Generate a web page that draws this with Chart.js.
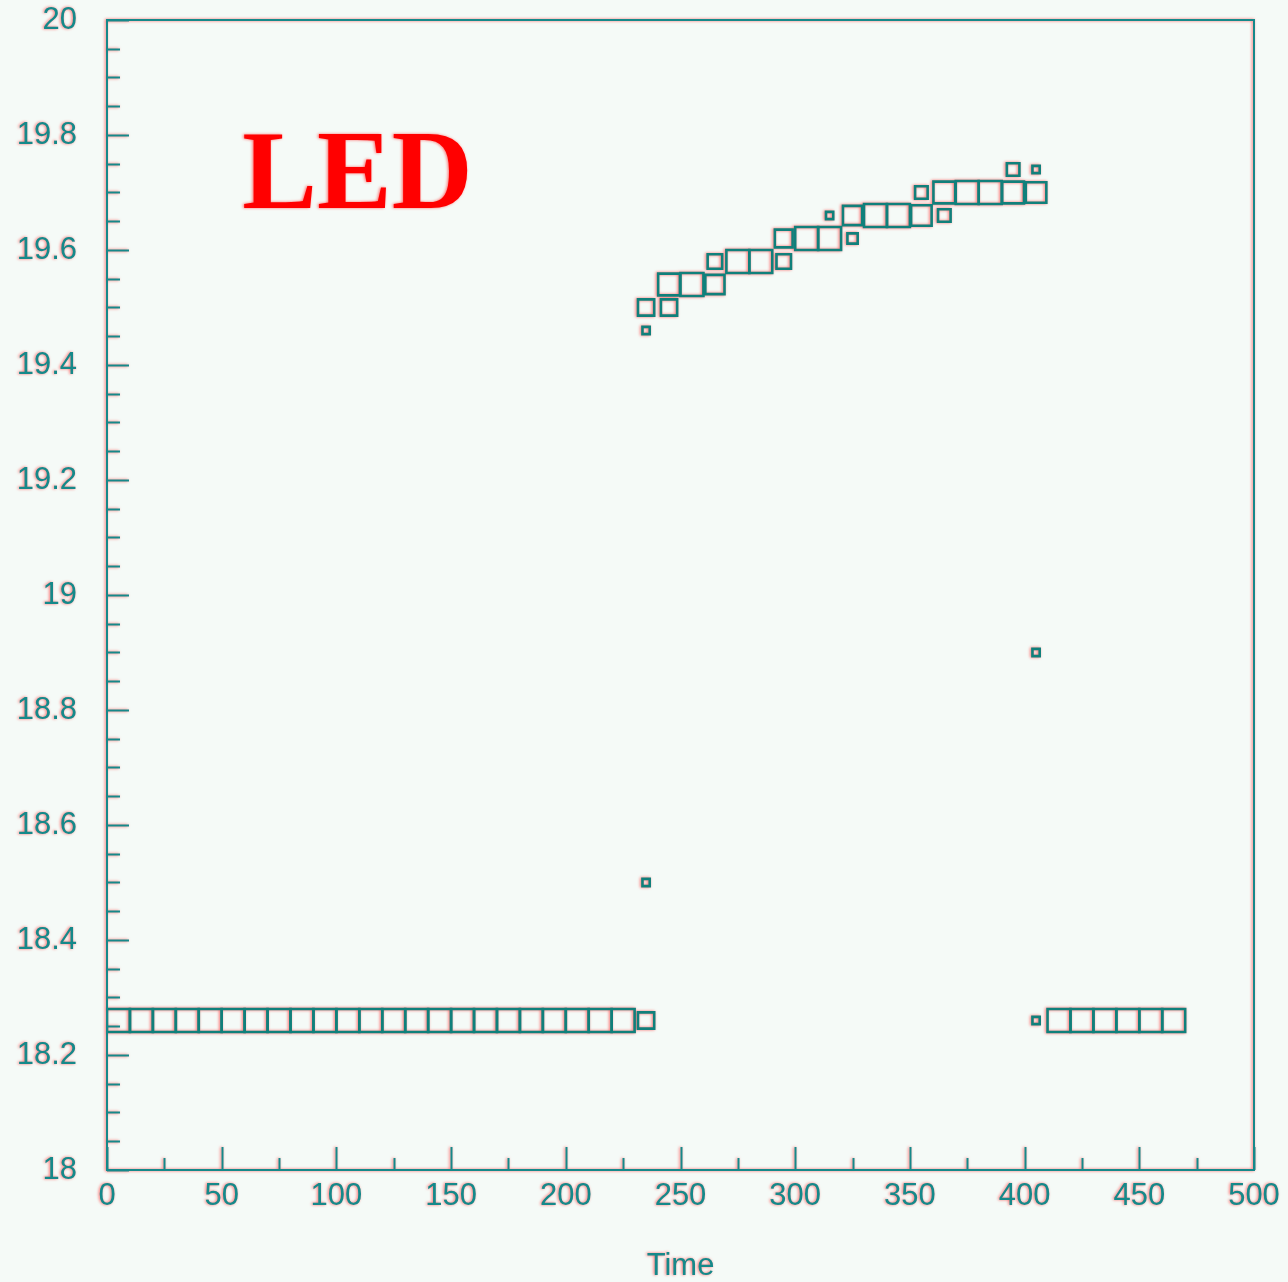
<!DOCTYPE html>
<html>
<head>
<meta charset="utf-8">
<script src="https://cdn.jsdelivr.net/npm/chart.js@4.4.1/dist/chart.umd.min.js"></script>
<style>
  html, body { margin: 0; padding: 0; background: #f5faf7; }
  #wrap { width: 1288px; height: 1282px; }
  /* slight red fringe round every line and glyph */
  canvas { filter: drop-shadow(-1px 0px 1.5px rgba(255, 60, 60, 0.75)); }
</style>
</head>
<body>
<div id="wrap"><canvas id="ledHist" width="1288" height="1282"></canvas></div>
<script>
// LED response vs time, 2D histogram drawn as boxes (10 time units x 0.04 per bin)
var timeBins = [5, 15, 25, 35, 45, 55, 65, 75, 85, 95, 105, 115, 125, 135, 145, 155, 165, 175, 185, 195, 205, 215, 225,
    235, 235, 235, 235, 245, 245, 255, 265, 265, 275, 285, 295, 295, 305, 315, 315, 325, 325,
    335, 345, 355, 355, 365, 365, 375, 385, 395, 395, 405, 405, 405, 405,
    415, 425, 435, 445, 455, 465];
var ledBins = [18.26, 18.26, 18.26, 18.26, 18.26, 18.26, 18.26, 18.26, 18.26, 18.26, 18.26, 18.26, 18.26, 18.26, 18.26, 18.26, 18.26, 18.26, 18.26, 18.26, 18.26, 18.26, 18.26,
    18.26, 18.50, 19.46, 19.50, 19.50, 19.54, 19.54, 19.54, 19.58, 19.58, 19.58, 19.58, 19.62, 19.62, 19.62, 19.66, 19.62, 19.66,
    19.66, 19.66, 19.66, 19.70, 19.66, 19.70, 19.70, 19.70, 19.70, 19.74, 19.70, 19.74, 18.90, 18.26,
    18.26, 18.26, 18.26, 18.26, 18.26, 18.26];
var entries = [10, 10, 10, 10, 10, 10, 10, 10, 10, 10, 10, 10, 10, 10, 10, 10, 10, 10, 10, 10, 10, 10, 10,
    5, 1, 1, 5, 5, 9, 10, 7, 4, 10, 10, 4, 6, 10, 10, 1, 2, 7,
    10, 10, 8, 3, 3, 9, 10, 10, 9, 3, 8, 1, 1, 1,
    10, 10, 10, 10, 10, 10];

var binWidthX = 10;
var maxEntries = 10;

var xTickLabels = [0, 50, 100, 150, 200, 250, 300, 350, 400, 450, 500];
var yTickLabels = [18, 18.2, 18.4, 18.6, 18.8, 19, 19.2, 19.4, 19.6, 19.8, 20];

var tagText = "LED";
var tagAt = { x: 59, y: 19.673 };

var teal = '#15898a';
var boxColor = '#10807b';

var points = [];
for (var i = 0; i < timeBins.length; i++) {
    points.push({ x: timeBins[i], y: ledBins[i], n: entries[i] });
}

// frame on all four sides plus inward ticks on the left and bottom axes
var frameTicks = {
    id: 'frameTicks',
    afterDraw: function (chart) {
        var c = chart.ctx, a = chart.chartArea;
        var xs = chart.scales.x, ys = chart.scales.y;
        c.save();
        c.strokeStyle = teal;
        c.lineWidth = 2;
        c.strokeRect(a.left, a.top, a.right - a.left, a.bottom - a.top);
        c.beginPath();
        for (var v = 18; v <= 20.0001; v += 0.05) {
            var py = Math.round(ys.getPixelForValue(v)) + 0.5;
            var major = yTickLabels.some(function (t) { return Math.abs(t - v) < 1e-6; });
            c.moveTo(a.left, py);
            c.lineTo(a.left + (major ? 22 : 13), py);
        }
        for (var t = 0; t <= 500; t += 25) {
            var px = Math.round(xs.getPixelForValue(t)) + 0.5;
            var big = xTickLabels.indexOf(t) >= 0;
            c.moveTo(px, a.bottom);
            c.lineTo(px, a.bottom - (big ? 23 : 12));
        }
        c.stroke();

        c.fillStyle = '#ff0000';
        c.font = 'bold 112px "Liberation Serif", "DejaVu Serif", serif';
        c.textBaseline = 'alphabetic';
        c.textAlign = 'left';
        c.fillText(tagText, xs.getPixelForValue(tagAt.x), ys.getPixelForValue(tagAt.y));
        c.restore();
    }
};

var labelFont = { family: '"Liberation Sans", Arial, sans-serif', size: 31 };

var chrt = document.getElementById("ledHist").getContext("2d");
var chartId = new Chart(chrt, {
    type: 'scatter',
    data: {
        datasets: [{
            label: "LED",
            data: points,
            pointStyle: 'rect',
            borderColor: boxColor,
            backgroundColor: 'rgba(0,0,0,0)',
            borderWidth: 2.6,
            pointRadius: function (ctx) {
                var xs = ctx.chart.scales.x;
                var bin = Math.abs(xs.getPixelForValue(binWidthX) - xs.getPixelForValue(0));
                var side = bin * Math.sqrt(ctx.raw.n / maxEntries);
                return side / (2 * Math.SQRT1_2);
            }
        }]
    },
    options: {
        responsive: false,
        animation: false,
        events: [],
        layout: {
            padding: { top: 20, right: 34, left: 0, bottom: 0 }
        },
        scales: {
            x: {
                type: 'linear',
                min: 0,
                max: 500,
                afterFit: function (scale) {
                    scale.height = 112;
                    scale.paddingLeft = 0;
                    scale.paddingRight = 0;
                },
                grid: { display: false, drawTicks: false },
                border: { display: false },
                ticks: {
                    stepSize: 50,
                    autoSkip: false,
                    maxRotation: 0,
                    padding: 8,
                    color: teal,
                    font: labelFont
                },
                title: {
                    display: true,
                    text: 'Time',
                    color: teal,
                    padding: { top: 0, bottom: 0 },
                    font: { family: labelFont.family, size: 31, lineHeight: 1.0 }
                }
            },
            y: {
                min: 18,
                max: 20,
                afterFit: function (scale) {
                    scale.width = 107;
                    scale.paddingTop = 0;
                    scale.paddingBottom = 0;
                },
                grid: { display: false, drawTicks: false },
                border: { display: false },
                ticks: {
                    stepSize: 0.2,
                    padding: 30,
                    color: teal,
                    font: labelFont,
                    callback: function (val) {
                        return String(Math.round(val * 10) / 10);
                    }
                }
            }
        },
        plugins: {
            legend: { display: false },
            tooltip: { enabled: false }
        }
    },
    plugins: [frameTicks]
});
</script>
</body>
</html>
